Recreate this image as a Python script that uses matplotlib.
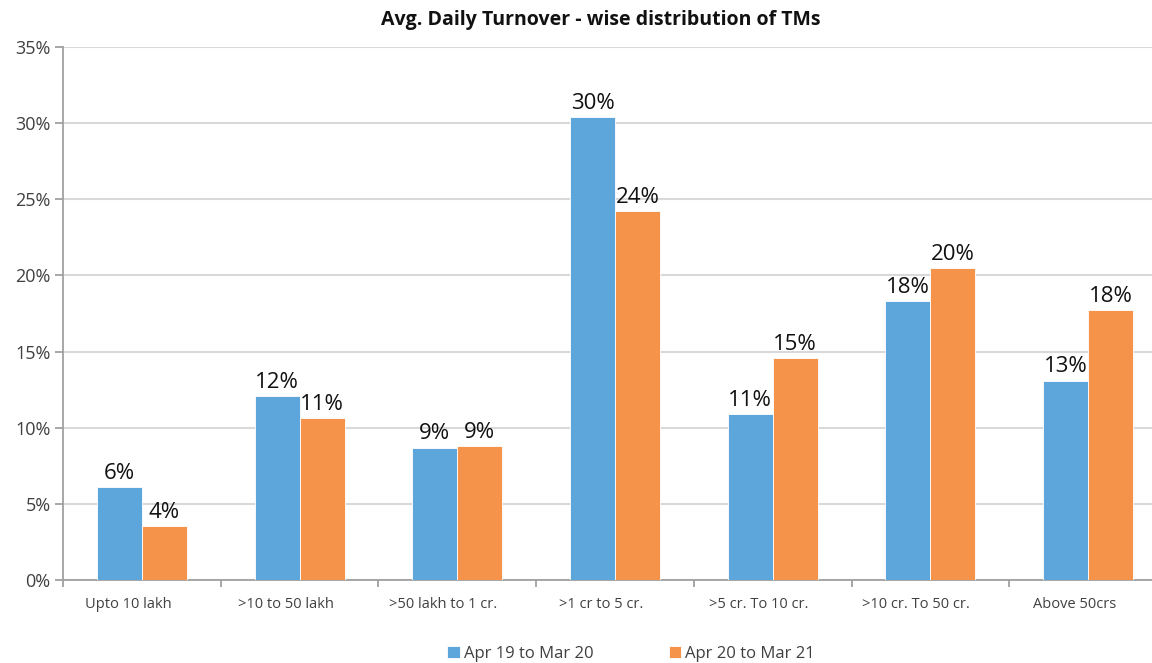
import numpy as np
import matplotlib
matplotlib.use("Agg")
import matplotlib.pyplot as plt
import matplotlib.transforms as mtransforms
from matplotlib.ticker import MultipleLocator, FuncFormatter

plt.rcParams['font.family'] = ['Open Sans', 'DejaVu Sans']

categories = ["Upto 10 lakh", ">10 to 50 lakh", ">50 lakh to 1 cr.", ">1 cr to 5 cr.",
              ">5 cr. To 10 cr.", ">10 cr. To 50 cr.", "Above 50crs"]
fy20 = [6.1, 12.1, 8.7, 30.4, 10.9, 18.3, 13.1]
fy21 = [3.55, 10.65, 8.8, 24.2, 14.6, 20.5, 17.7]
series_names = ["Apr 19 to Mar 20", "Apr 20 to Mar 21"]

blue = "#5DA6DB"
orange = "#F5934A"

fig = plt.figure(figsize=(11.52, 6.63), dpi=100)
ax = fig.add_axes([63 / 1152, 83 / 663, 1104 / 1152, 533 / 663])

x = np.arange(len(categories))
w = 0.285
b1 = ax.bar(x - w / 2, fy20, w, color=blue, edgecolor="white", linewidth=0.6,
            label=series_names[0], zorder=3)
b2 = ax.bar(x + w / 2, fy21, w, color=orange, edgecolor="white", linewidth=0.6,
            label=series_names[1], zorder=3)

for bars in (b1, b2):
    for r in bars:
        v = r.get_height()
        ax.text(r.get_x() + r.get_width() / 2, v + 0.2, f"{round(v)}%",
                ha="center", va="bottom", fontsize=16, color="#111111", zorder=4)

ax.set_xlim(-0.5, len(categories) - 0.5)
ax.set_ylim(0, 35)
ax.yaxis.set_major_locator(MultipleLocator(5))
ax.yaxis.set_major_formatter(FuncFormatter(lambda v, p: f"{v:.0f}%"))
ax.grid(axis="y", color="#D9D9D9", linewidth=1.5, zorder=0)

# category labels sit a little left of centre, tick marks on the boundaries
ax.set_xticks(x)
ax.set_xticklabels(categories, fontsize=10.5, color="#404040")
ax.tick_params(axis="x", length=0, pad=12)
shift = mtransforms.ScaledTranslation(-0.14, 0, fig.dpi_scale_trans)
for lbl in ax.get_xticklabels():
    lbl.set_transform(lbl.get_transform() + shift)
ax.set_xticks(np.arange(-0.5, len(categories), 1), minor=True)
ax.tick_params(axis="x", which="minor", length=5, color="#A0A0A0", width=1.3)
ax.tick_params(axis="y", length=6, color="#A0A0A0", width=1.3, labelsize=13,
               labelcolor="#404040", pad=3)

for s in ("top", "right"):
    ax.spines[s].set_visible(False)
for s in ("left", "bottom"):
    ax.spines[s].set_color("#A0A0A0")
    ax.spines[s].set_linewidth(1.3)

fig.text(601 / 1152, 1 - 20 / 663, "Avg. Daily Turnover - wise distribution of TMs",
         ha="center", va="center", fontsize=14, fontweight="bold", color="#111111")

fig.legend(loc="center", bbox_to_anchor=(631 / 1152, 1 - 654 / 663), ncol=2,
           frameon=False, fontsize=12, handlelength=0.75, handleheight=0.75,
           handletextpad=0.25, columnspacing=4.5, labelcolor="#404040")

fig.savefig("out.png", dpi=100)
